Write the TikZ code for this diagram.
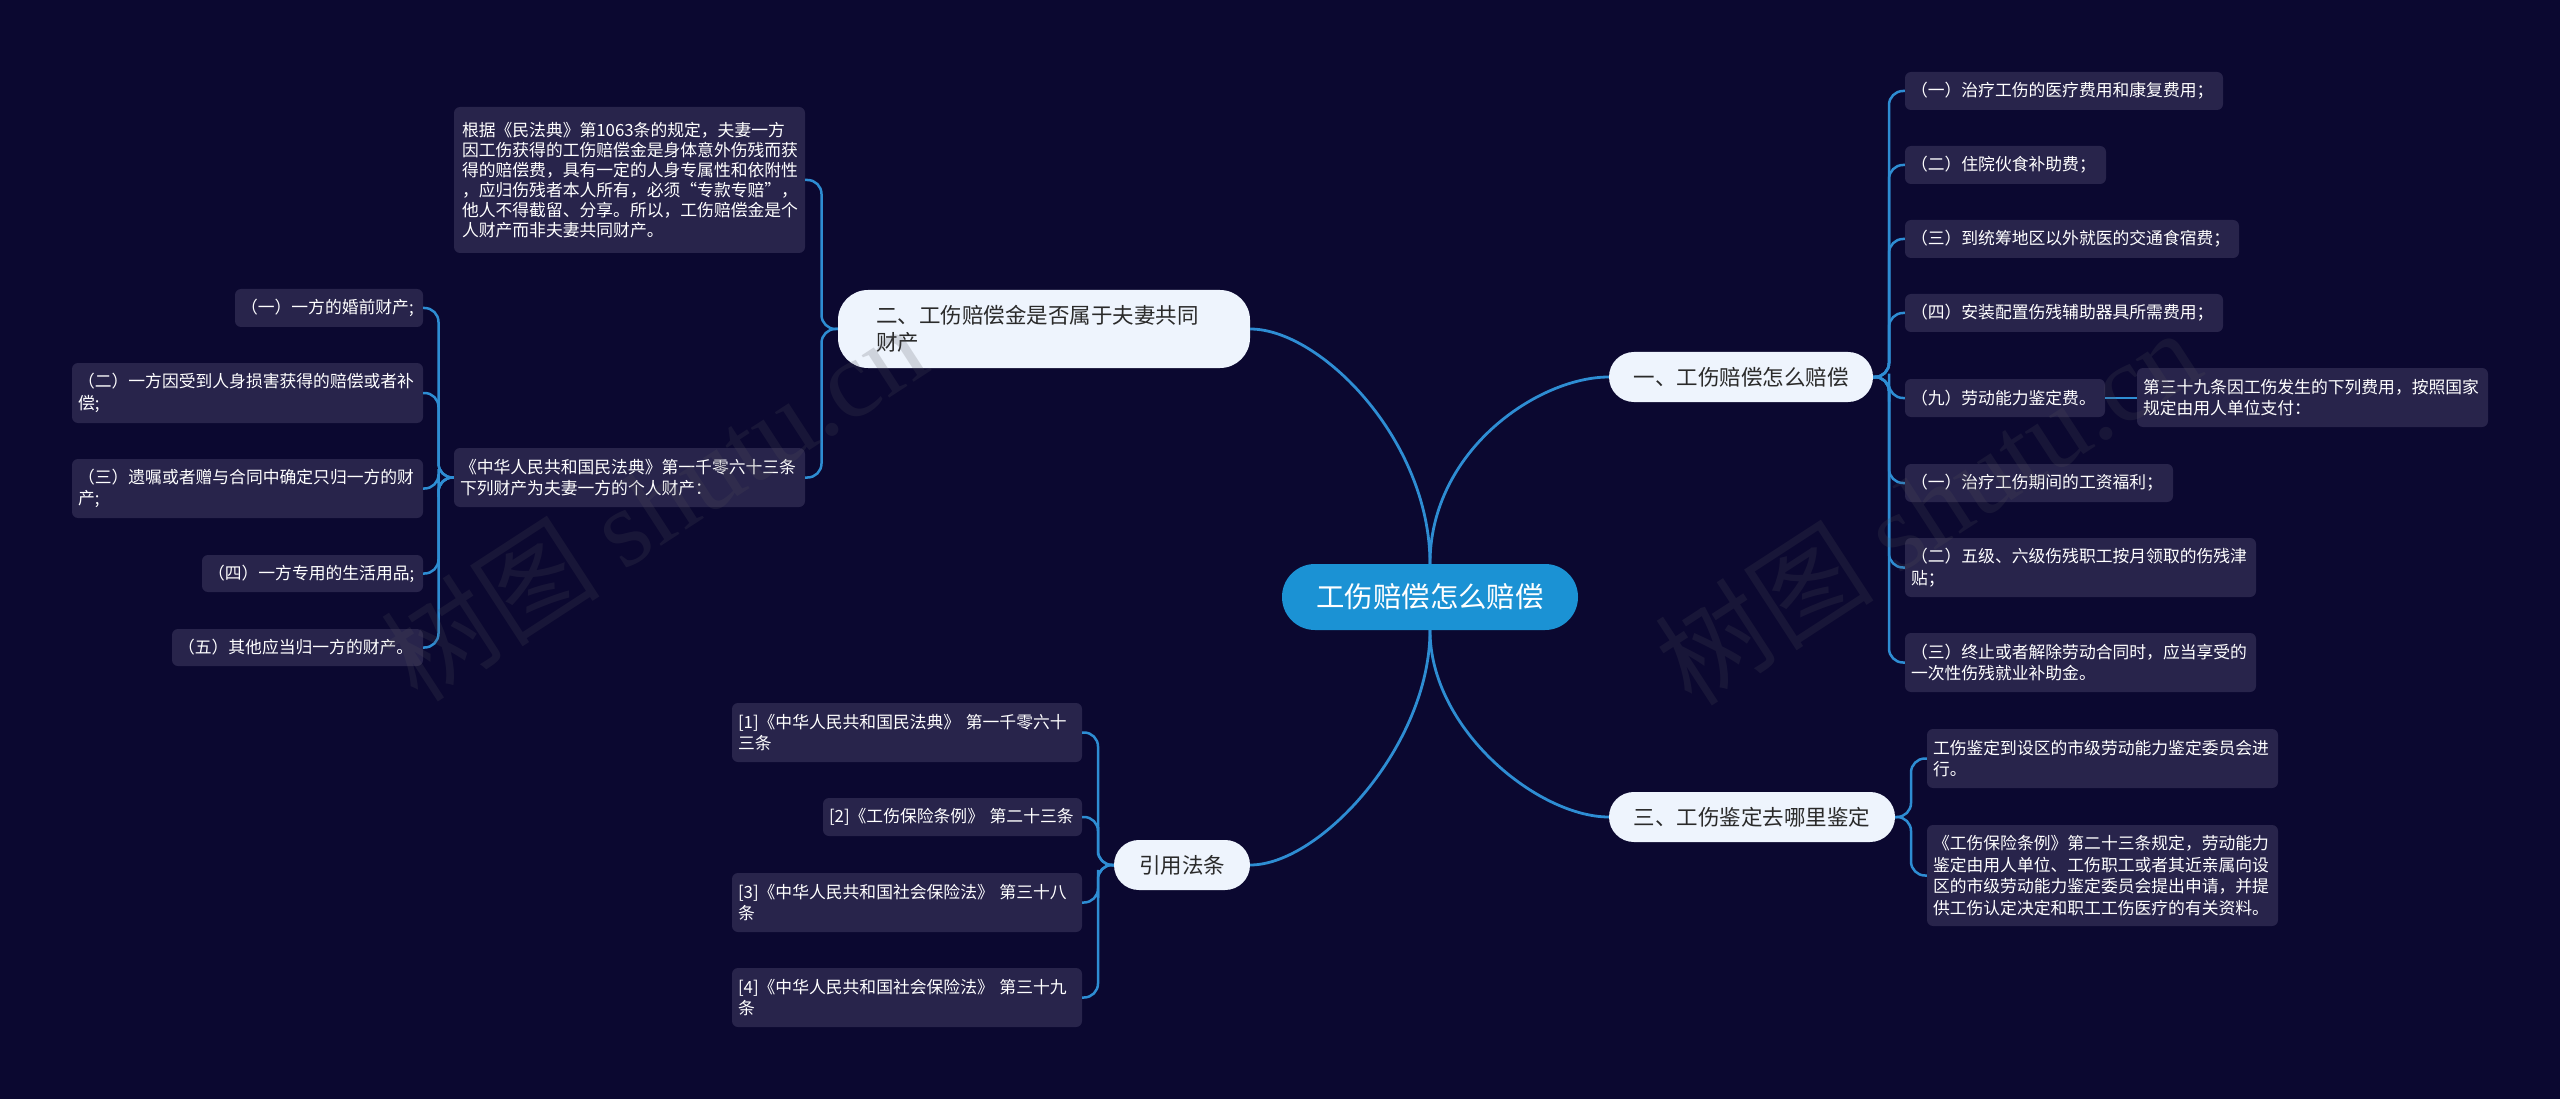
\documentclass[tikz,border=0pt]{standalone}
\usepackage{fontspec}
\setmainfont{Noto Sans CJK SC}
\newfontfamily\wmlatin{Liberation Serif}
\usetikzlibrary{calc}
\definecolor{bgc}{HTML}{0B0830}
\definecolor{leafc}{HTML}{28244B}
\definecolor{linec}{HTML}{2E8DD3}
\definecolor{rootc}{HTML}{1B92D4}
\definecolor{branchc}{HTML}{EEF4FD}
\definecolor{branchtxt}{HTML}{2A2A2A}
\definecolor{wmc}{HTML}{505058}
\newcommand\mknode[8]{%
\pgfmathsetmacro\mkw{#5-#3}%
\pgfmathsetmacro\mkh{#6-#4}%
\pgfmathsetmacro\mkx{(#3+#5)/2}%
\pgfmathsetmacro\mky{(#4+#6)/2}%
\pgfmathsetmacro\mktw{#5-#3-#7}%
\node[#1,minimum width=\mkw pt,minimum height=\mkh pt,text width=\mktw pt] (#2) at (\mkx,\mky) {#8};}
\newcommand\brl[2]{\draw[link] (#1) -| ($(#1)!0.5!(#2)$) |- (#2);}
\tikzset{
 leafbox/.style={fill=leafc,text=white,rounded corners=6pt,inner sep=0pt,align=left,
   font=\fontsize{16.8}{21.7}\selectfont},
 branchbox/.style={fill=branchc,text=branchtxt,rounded corners=24.9pt,inner sep=0pt,align=center,
   font=\fontsize{21.5}{27}\selectfont},
 rootbox/.style={fill=rootc,text=white,rounded corners=32.9pt,inner sep=0pt,align=center,
   font=\fontsize{28.4}{34}\selectfont},
 link/.style={draw=linec,line width=2.5pt,rounded corners=14pt},
 mainlink/.style={draw=linec,line width=2.8pt},
 wmark/.style={rotate=33,text=wmc,text opacity=0.2,inner sep=0pt,font=\fontsize{110}{110}\selectfont}
}
\begin{document}
\begin{tikzpicture}[x=1pt,y=-1pt]
\fill[bgc] (0,0) rectangle (2560,1099);
\useasboundingbox (0,0) rectangle (2560,1099);

% root and branches
\mknode{rootbox}{root}{1282}{564}{1578}{630}{0}{工伤赔偿怎么赔偿}
\mknode{branchbox,rounded corners=30pt,align=left}{b2}{838}{290}{1250}{368}{76}{二、工伤赔偿金是否属于夫妻共同\\财产}
\mknode{branchbox}{b1}{1609}{352}{1873}{402}{0}{一、工伤赔偿怎么赔偿}
\mknode{branchbox}{b3}{1609}{792}{1895}{842}{0}{三、工伤鉴定去哪里鉴定}
\mknode{branchbox}{b4}{1114}{840}{1250}{890}{0}{引用法条}

% branch 二 children
\mknode{leafbox,font=\fontsize{16.8}{20}\selectfont}{big}{454}{107}{805}{253}{16}{根据《民法典》第1063条的规定，夫妻一方\\因工伤获得的工伤赔偿金是身体意外伤残而获\\得的赔偿费，具有一定的人身专属性和依附性\\，应归伤残者本人所有，必须“专款专赔”，\\他人不得截留、分享。所以，工伤赔偿金是个\\人财产而非夫妻共同财产。}
\mknode{leafbox}{p1}{454}{448}{805}{507}{12}{《中华人民共和国民法典》第一千零六十三条\\下列财产为夫妻一方的个人财产：}
\mknode{leafbox}{l1}{235}{289}{423}{327}{12}{（一）一方的婚前财产;}
\mknode{leafbox}{l2}{72}{363}{423}{423}{12}{（二）一方因受到人身损害获得的赔偿或者补\\偿;}
\mknode{leafbox}{l3}{72}{459}{423}{518}{12}{（三）遗嘱或者赠与合同中确定只归一方的财\\产;}
\mknode{leafbox}{l4}{202}{555}{423}{592}{12}{（四）一方专用的生活用品;}
\mknode{leafbox}{l5}{172}{629}{423}{666}{12}{（五）其他应当归一方的财产。}

% branch 一 children
\mknode{leafbox}{r1}{1905}{72}{2223}{110}{12}{（一）治疗工伤的医疗费用和康复费用；}
\mknode{leafbox}{r2}{1905}{146}{2106}{184}{12}{（二）住院伙食补助费；}
\mknode{leafbox}{r3}{1905}{220}{2239}{258}{12}{（三）到统筹地区以外就医的交通食宿费；}
\mknode{leafbox}{r4}{1905}{294}{2223}{332}{12}{（四）安装配置伤残辅助器具所需费用；}
\mknode{leafbox}{r5}{1905}{379}{2105}{417}{12}{（九）劳动能力鉴定费。}
\mknode{leafbox}{r5a}{2137}{368}{2488}{427}{12}{第三十九条因工伤发生的下列费用，按照国家\\规定由用人单位支付：}
\mknode{leafbox}{r6}{1905}{464}{2173}{502}{12}{（一）治疗工伤期间的工资福利；}
\mknode{leafbox}{r7}{1905}{538}{2256}{597}{12}{（二）五级、六级伤残职工按月领取的伤残津\\贴；}
\mknode{leafbox}{r8}{1905}{633}{2256}{692}{12}{（三）终止或者解除劳动合同时，应当享受的\\一次性伤残就业补助金。}

% branch 三 children
\mknode{leafbox}{s1}{1927}{729}{2278}{788}{12}{工伤鉴定到设区的市级劳动能力鉴定委员会进\\行。}
\mknode{leafbox}{s2}{1927}{825}{2278}{926}{12}{《工伤保险条例》第二十三条规定，劳动能力\\鉴定由用人单位、工伤职工或者其近亲属向设\\区的市级劳动能力鉴定委员会提出申请，并提\\供工伤认定决定和职工工伤医疗的有关资料。}

% 引用法条 children
\mknode{leafbox}{c1}{732}{703}{1082}{762}{12}{[1]《中华人民共和国民法典》 第一千零六十\\三条}
\mknode{leafbox}{c2}{823}{798}{1082}{836}{12}{[2]《工伤保险条例》 第二十三条}
\mknode{leafbox}{c3}{732}{873}{1082}{932}{12}{[3]《中华人民共和国社会保险法》 第三十八\\条}
\mknode{leafbox}{c4}{732}{968}{1082}{1027}{12}{[4]《中华人民共和国社会保险法》 第三十九\\条}

% main links
\draw[mainlink] (root.north) .. controls ($(root.north)+(0,-124)$) and ($(b2.east)+(70,0)$) .. (b2.east);
\draw[mainlink] (root.north) .. controls ($(root.north)+(0,-114)$) and ($(b1.west)+(-70,0)$) .. (b1.west);
\draw[mainlink] (root.south) .. controls ($(root.south)+(0,115)$) and ($(b4.east)+(70,0)$) .. (b4.east);
\draw[mainlink] (root.south) .. controls ($(root.south)+(0,100)$) and ($(b3.west)+(-70,0)$) .. (b3.west);

% bracket links
\brl{b2.west}{big.east}
\brl{b2.west}{p1.east}
\brl{p1.west}{l1.east}
\brl{p1.west}{l2.east}
\brl{p1.west}{l3.east}
\brl{p1.west}{l4.east}
\brl{p1.west}{l5.east}
\brl{b1.east}{r1.west}
\brl{b1.east}{r2.west}
\brl{b1.east}{r3.west}
\brl{b1.east}{r4.west}
\brl{b1.east}{r5.west}
\brl{b1.east}{r6.west}
\brl{b1.east}{r7.west}
\brl{b1.east}{r8.west}
\draw[link] (r5.east) -- (r5.east -| r5a.west);
\brl{b3.east}{s1.west}
\brl{b3.east}{s2.west}
\brl{b4.west}{c1.east}
\brl{b4.west}{c2.east}
\brl{b4.west}{c3.east}
\brl{b4.west}{c4.east}

% watermarks
\node[wmark] (wm1) at (653,502) {树图 {\wmlatin shutu.cn}};
\node[wmark] (wm2) at (1927,506) {树图 {\wmlatin shutu.cn}};
\end{tikzpicture}
\end{document}
